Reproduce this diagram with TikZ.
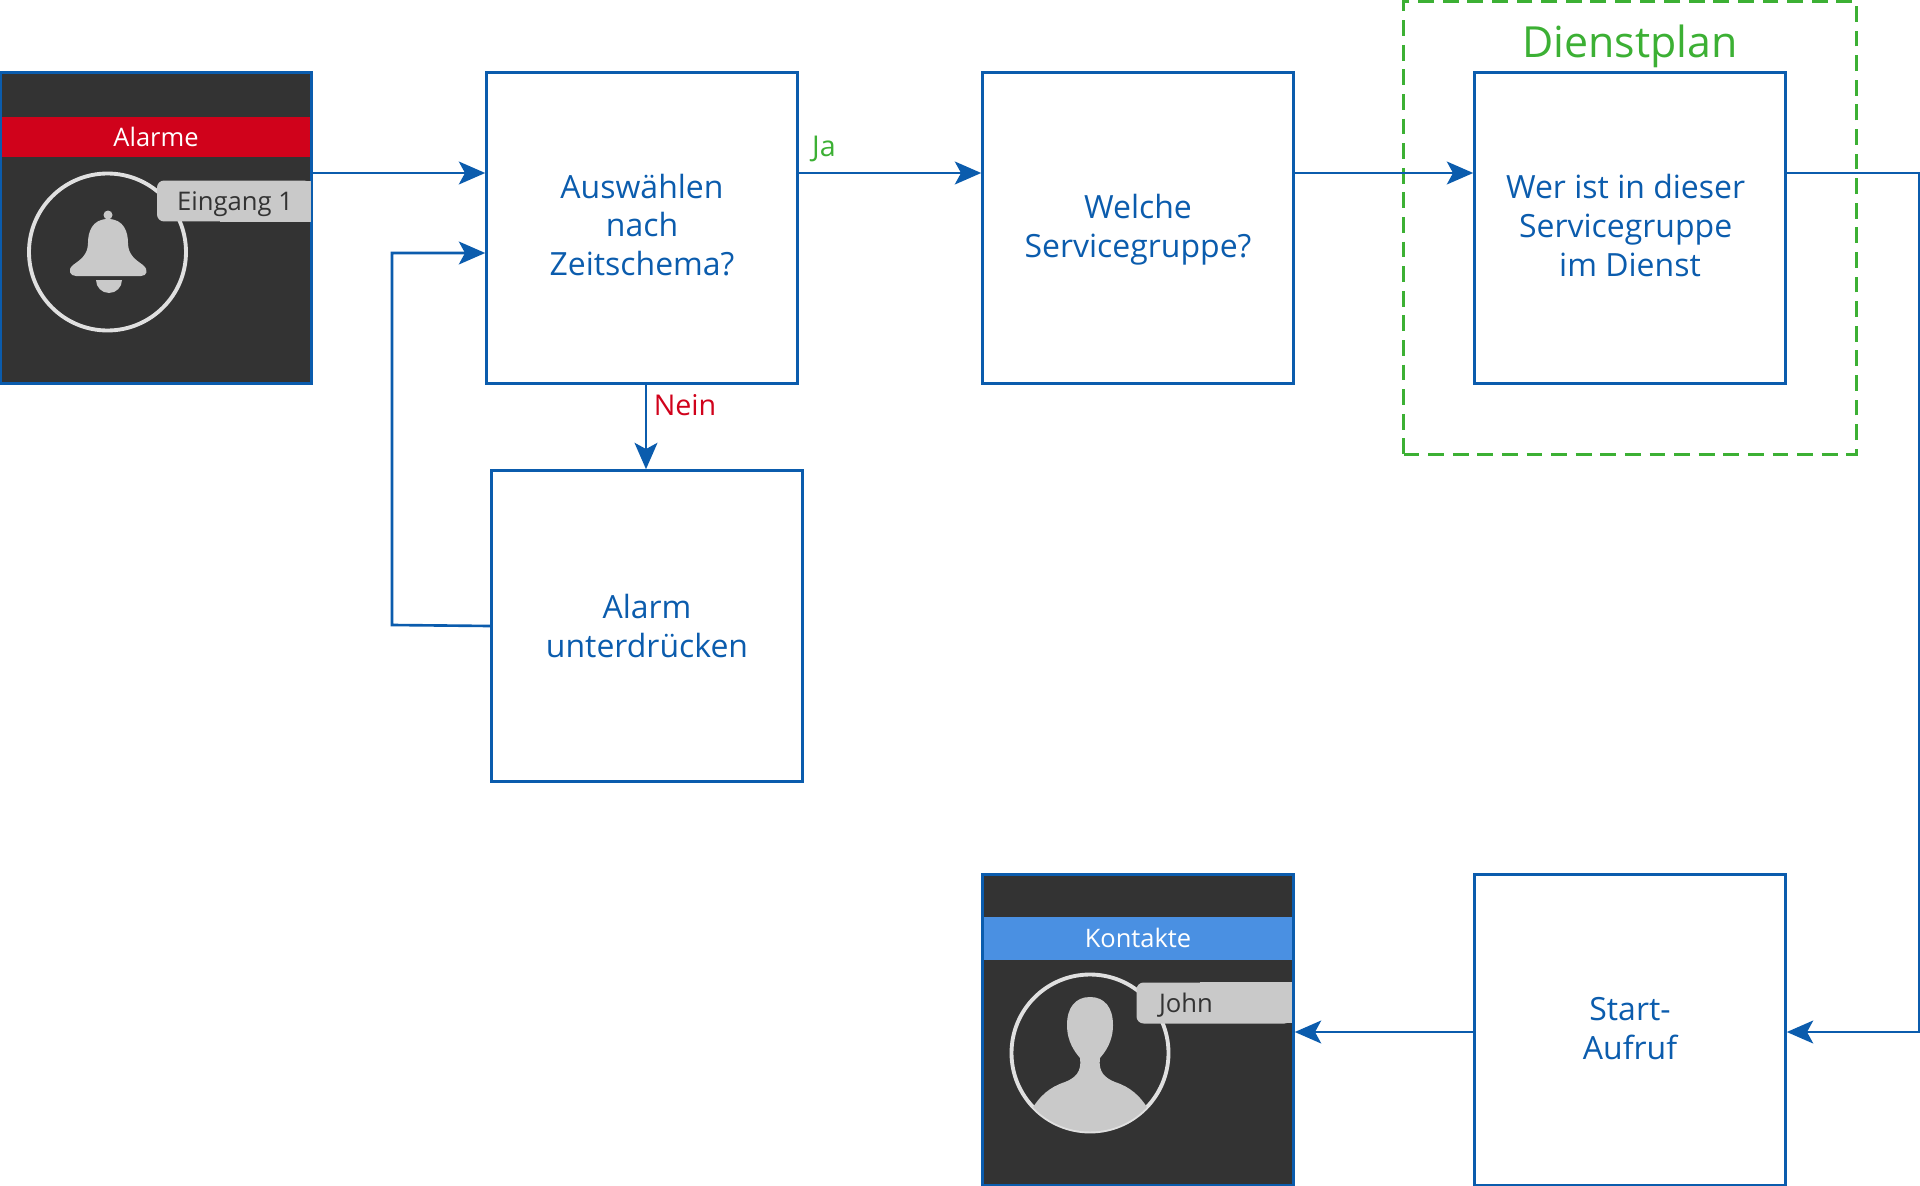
\documentclass[tikz,border=0pt]{standalone}
\usepackage{fontspec}
\setmainfont{Open Sans}
\usetikzlibrary{arrows.meta}
\definecolor{flowblue}{HTML}{0B5CAD}
\definecolor{planned}{HTML}{3CB034}
\definecolor{nogo}{HTML}{D0021B}
\definecolor{headblue}{HTML}{4A90E2}
\definecolor{screen}{HTML}{333333}
\definecolor{iconG}{HTML}{C9C9C9}
\tikzset{
  flowbox/.style={draw=flowblue, line width=1.5pt, minimum size=6.22cm, inner sep=0pt},
  boxtext/.style={align=center, text=flowblue, inner sep=0pt, font=\fontsize{18.2}{22}\selectfont},
  screenbox/.style={flowbox, fill=screen},
  band/.style={minimum width=6.16cm, minimum height=#1, inner sep=0pt, text=white, font=\fontsize{14.5}{16}\selectfont},
  tag/.style={minimum height=.82cm, fill=iconG, text=screen, inner sep=0pt, rounded corners=4pt},
  flow/.style={draw=flowblue, line width=1.5pt, -{Stealth[length=15pt,width=13pt,inset=3.5pt]}},
  lab/.style={inner sep=0pt, font=\fontsize{16.3}{18}\selectfont}
}
\begin{document}
\begin{tikzpicture}[x=.02cm, y=-.02cm]
\useasboundingbox (0,0) rectangle (1920,1186);
% boxes
\node[screenbox] (alarme) at (156,228) {};
\node[flowbox, label={[boxtext, yshift=1.7pt]center:Auswählen\\nach\\Zeitschema?}] (zeit) at (642,228) {};
\node[flowbox, label={[boxtext, yshift=-1pt]center:Welche\\Servicegruppe?}] (gruppe) at (1138,228) {};
\node[flowbox, label={[boxtext, yshift=1.4pt]center:\mbox{Wer ist in dieser\hspace{5pt}}\\\mbox{Servicegruppe\hspace{5pt}}\\im Dienst}] (dienst) at (1630,228) {};
\node[flowbox, label={[boxtext]center:Alarm\\unterdrücken}] (unter) at (647,626) {};
\node[flowbox, label={[boxtext, yshift=.7pt]center:Start-\\Aufruf}] (start) at (1630,1030) {};
\node[screenbox] (kontakte) at (1138,1030) {};
% dashed frame
\node[draw=planned, dashed, line width=1.4pt, dash pattern=on 9pt off 5pt, minimum width=9.06cm, minimum height=9.06cm] (plan) at (1630,228) {};
\node[text=planned, inner sep=0pt, font=\fontsize{24.4}{26}\selectfont] (plantitle) at (1630,46) {Dienstplan};
% alarm screen
\node[band=.82cm, fill=nogo] (alarmband) at (156,137) {Alarme};
\draw[white!85!screen, line width=2.2pt] (107.5,252) circle (78.5);
\fill[iconG] (108,215) circle (4.5);
\fill[iconG] (108,219) .. controls (92,219) and (88,232) .. (88,243) .. controls (88,255) and (80,260) .. (73,265) .. controls (67,270) and (70,276) .. (76,276) -- (141,276) .. controls (147,276) and (149,270) .. (143,265) .. controls (136,260) and (128,255) .. (128,243) .. controls (128,232) and (124,219) .. (108,219) -- cycle;
\fill[iconG] (122,280) arc (0:180:13) -- cycle;
\node[tag, minimum width=3.08cm] (alarmtag) at (234,201) {};
\fill[iconG] (220,181) rectangle (311,222);
\node[inner sep=0pt, text=screen, font=\fontsize{14.6}{16}\selectfont] (eingang) at (235,204) {Eingang 1};
% contact screen
\node[band=.86cm, fill=headblue] (kontaktband) at (1138,938) {Kontakte};
\draw[white!85!screen, line width=2.2pt] (1090,1053) circle (78.5);
\begin{scope}
\clip (1090,1053) circle (78.5);
\fill[iconG] (1090,997) .. controls (1075,997) and (1067,1008) .. (1067,1025) .. controls (1067,1042) and (1075,1052) .. (1080,1058) .. controls (1082,1072) and (1075,1078) .. (1065,1082) .. controls (1050,1087) and (1040,1095) .. (1030,1112) -- (1030,1140) -- (1150,1140) -- (1150,1112) .. controls (1140,1095) and (1130,1087) .. (1115,1082) .. controls (1105,1078) and (1098,1072) .. (1100,1058) .. controls (1105,1052) and (1113,1042) .. (1113,1025) .. controls (1113,1008) and (1105,997) .. (1090,997) -- cycle;
\end{scope}
\node[tag, minimum width=3.1cm] (johntag) at (1214,1003) {};
\fill[iconG] (1200,982) rectangle (1292,1023);
\node[inner sep=0pt, text=screen, font=\fontsize{14.6}{16}\selectfont] (john) at (1186,1005) {John};
% connectors
\coordinate (rowA) at (0,173);
\coordinate (rowB) at (0,253);
\coordinate (rowC) at (0,1032);
\coordinate (drop) at (646,0);
\coordinate (backup) at (392,625);
\coordinate (rightside) at (1919,173);
\draw[flow] (alarme.east |- rowA) -- (zeit.west |- rowA);
\draw[flow] (zeit.east |- rowA) -- (gruppe.west |- rowA);
\draw[flow] (gruppe.east |- rowA) -- (dienst.west |- rowA);
\draw[flow] (dienst.east |- rowA) -- (rightside) -- (rightside |- rowC) -- (start.east |- rowC);
\draw[flow] (start.west |- rowC) -- (kontakte.east |- rowC);
\draw[flow] (drop |- zeit.south) -- (drop |- unter.north);
\draw[flow] (unter.west) -- (backup) -- (backup |- rowB) -- (zeit.west |- rowB);
% labels
\node[lab, text=planned] (ja) at (824,149) {Ja};
\node[lab, text=nogo] (nein) at (685,405) {Nein};
\end{tikzpicture}
\end{document}
